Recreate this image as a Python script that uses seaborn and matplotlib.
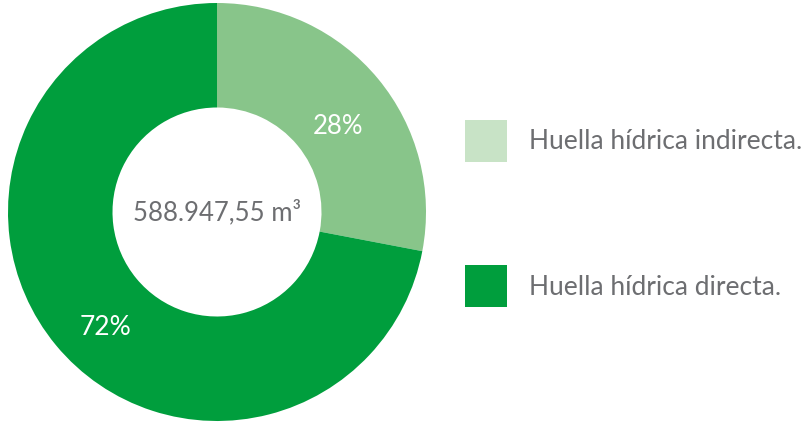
import matplotlib
matplotlib.use("Agg")
import matplotlib.pyplot as plt
import seaborn as sns
from matplotlib.patches import Patch

sns.set_theme(style="white")
plt.rcParams['font.family'] = ['Lato', 'DejaVu Sans']

# data
labels = ['Huella hídrica indirecta.', 'Huella hídrica directa.']
shares = [28, 72]
total_label = '588.947,55 m³'
slice_colors = ['#88c58a', '#009e3d']
legend_colors = ['#c8e3c6', '#009e3d']
txt_color = '#6d6e71'

W, H = 811, 425
fig = plt.figure(figsize=(W / 100, H / 100), dpi=100)
fig.set_facecolor('w')

# donut axes: centre (217,213), radius ~210 px
cx, cy, r = 217, 212, 209
ax = fig.add_axes([(cx - r) / W, (H - cy - r) / H, 2 * r / W, 2 * r / H])
wedges, _ = ax.pie(shares, colors=slice_colors, startangle=90, counterclock=False,
                   radius=1, wedgeprops=dict(width=0.5, linewidth=0))
ax.set_xlim(-1, 1)
ax.set_ylim(-1, 1)
ax.set_aspect('equal')
ax.axis('off')

ax.text(0, 0, total_label, ha='center', va='center', fontsize=18.5, color=txt_color)
ax.text(0.578, 0.41, f'{shares[0]}%', ha='center', va='center', fontsize=18.5, color='white')
ax.text(-0.535, -0.555, f'{shares[1]}%', ha='center', va='center', fontsize=19, color='white')

fs = 19
handles = [Patch(facecolor=c, edgecolor='none') for c in legend_colors]
leg = fig.legend(handles, labels, loc='upper left', bbox_to_anchor=(465 / W, 1 - 120 / H),
                 frameon=False, fontsize=fs, handlelength=1.59, handleheight=2.07,
                 handletextpad=0.85, labelspacing=3.92, borderaxespad=0, borderpad=0)
for t in leg.get_texts():
    t.set_color(txt_color)

fig.savefig('out.png', dpi=100, facecolor='w')
